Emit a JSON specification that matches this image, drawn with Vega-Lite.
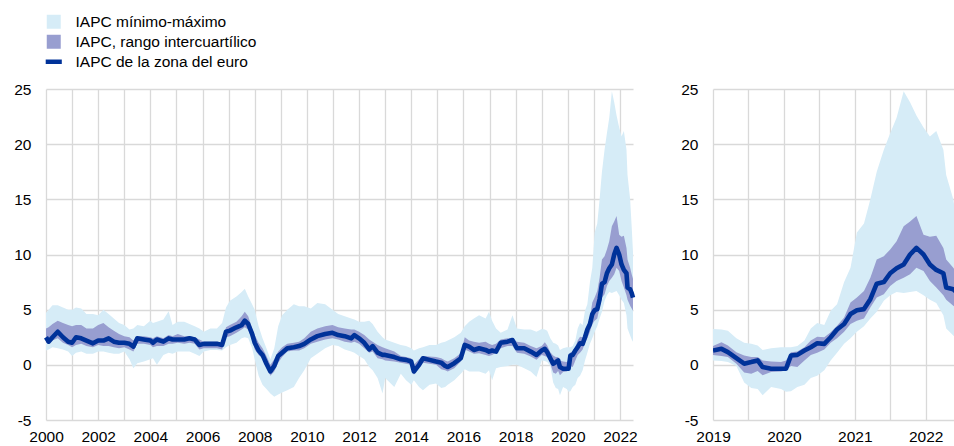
{
  "$schema": "https://vega.github.io/schema/vega-lite/v6.json",
  "padding": {"left": 13, "top": 14, "right": 0, "bottom": 0},
  "bounds": "flush",
  "spacing": 80,
  "datasets": {
    "d": [
      {"year": 2000.00, "mn": 1.3, "q1": 2.0, "v": 2.5, "q3": 3.3, "mx": 4.7},
      {"year": 2000.10, "mn": 1.4, "q1": 1.9, "v": 2.1, "q3": 3.4, "mx": 5.0},
      {"year": 2000.25, "mn": 1.6, "q1": 2.2, "v": 2.5, "q3": 3.7, "mx": 5.4},
      {"year": 2000.45, "mn": 1.5, "q1": 2.4, "v": 3.0, "q3": 4.0, "mx": 5.4},
      {"year": 2000.65, "mn": 1.4, "q1": 2.0, "v": 2.5, "q3": 3.8, "mx": 5.2},
      {"year": 2000.85, "mn": 1.2, "q1": 1.8, "v": 2.1, "q3": 3.6, "mx": 5.0},
      {"year": 2001.00, "mn": 0.8, "q1": 1.6, "v": 2.0, "q3": 3.5, "mx": 5.0},
      {"year": 2001.15, "mn": 1.1, "q1": 1.8, "v": 2.5, "q3": 3.6, "mx": 5.2},
      {"year": 2001.35, "mn": 1.2, "q1": 1.9, "v": 2.4, "q3": 3.6, "mx": 5.1},
      {"year": 2001.55, "mn": 1.0, "q1": 1.7, "v": 2.2, "q3": 3.3, "mx": 4.6},
      {"year": 2001.80, "mn": 1.0, "q1": 1.6, "v": 1.95, "q3": 3.3, "mx": 4.6},
      {"year": 2002.00, "mn": 1.2, "q1": 1.8, "v": 2.2, "q3": 3.6, "mx": 4.5},
      {"year": 2002.20, "mn": 1.2, "q1": 1.7, "v": 2.2, "q3": 3.8, "mx": 5.0},
      {"year": 2002.40, "mn": 1.1, "q1": 1.7, "v": 2.4, "q3": 3.4, "mx": 4.6},
      {"year": 2002.60, "mn": 1.0, "q1": 1.6, "v": 2.1, "q3": 3.1, "mx": 4.2},
      {"year": 2002.80, "mn": 1.0, "q1": 1.5, "v": 2.0, "q3": 2.8, "mx": 3.8},
      {"year": 2003.00, "mn": 1.2, "q1": 1.6, "v": 2.0, "q3": 2.6, "mx": 3.6},
      {"year": 2003.20, "mn": 0.5, "q1": 1.4, "v": 1.9, "q3": 2.5, "mx": 3.2},
      {"year": 2003.35, "mn": -0.3, "q1": 1.2, "v": 1.65, "q3": 2.2, "mx": 3.3},
      {"year": 2003.50, "mn": 0.15, "q1": 1.9, "v": 2.4, "q3": 2.6, "mx": 3.6},
      {"year": 2003.75, "mn": 0.3, "q1": 1.9, "v": 2.3, "q3": 2.6, "mx": 3.5},
      {"year": 2004.00, "mn": 0.5, "q1": 1.8, "v": 2.2, "q3": 2.5, "mx": 4.0},
      {"year": 2004.10, "mn": 0.6, "q1": 1.6, "v": 2.0, "q3": 2.4, "mx": 3.8},
      {"year": 2004.25, "mn": 0.0, "q1": 1.7, "v": 2.3, "q3": 2.6, "mx": 3.9},
      {"year": 2004.50, "mn": 0.9, "q1": 1.7, "v": 2.1, "q3": 2.4, "mx": 4.1},
      {"year": 2004.70, "mn": 1.1, "q1": 1.9, "v": 2.4, "q3": 2.7, "mx": 4.85},
      {"year": 2004.85, "mn": 1.0, "q1": 1.9, "v": 2.3, "q3": 2.6, "mx": 3.6},
      {"year": 2005.05, "mn": 1.2, "q1": 2.0, "v": 2.3, "q3": 2.8, "mx": 3.9},
      {"year": 2005.30, "mn": 1.2, "q1": 1.9, "v": 2.3, "q3": 2.6, "mx": 3.9},
      {"year": 2005.50, "mn": 1.2, "q1": 2.0, "v": 2.4, "q3": 2.6, "mx": 3.7},
      {"year": 2005.70, "mn": 1.0, "q1": 1.9, "v": 2.3, "q3": 2.5, "mx": 3.5},
      {"year": 2005.88, "mn": 0.8, "q1": 1.4, "v": 1.8, "q3": 2.3, "mx": 3.3},
      {"year": 2006.05, "mn": 1.2, "q1": 1.5, "v": 1.9, "q3": 2.1, "mx": 3.0},
      {"year": 2006.30, "mn": 1.35, "q1": 1.5, "v": 1.9, "q3": 2.1, "mx": 3.3},
      {"year": 2006.55, "mn": 1.35, "q1": 1.5, "v": 1.9, "q3": 2.1, "mx": 3.3},
      {"year": 2006.75, "mn": 1.3, "q1": 1.4, "v": 1.8, "q3": 2.0, "mx": 3.8},
      {"year": 2006.90, "mn": 1.6, "q1": 2.5, "v": 3.0, "q3": 3.4, "mx": 5.2},
      {"year": 2007.05, "mn": 1.8, "q1": 2.6, "v": 3.1, "q3": 3.6, "mx": 5.8},
      {"year": 2007.30, "mn": 2.0, "q1": 2.9, "v": 3.4, "q3": 3.9, "mx": 6.2},
      {"year": 2007.50, "mn": 2.4, "q1": 3.2, "v": 3.6, "q3": 4.4, "mx": 6.6},
      {"year": 2007.62, "mn": 2.5, "q1": 3.4, "v": 4.0, "q3": 4.8, "mx": 6.9},
      {"year": 2007.75, "mn": 2.4, "q1": 3.2, "v": 3.7, "q3": 4.4, "mx": 6.2},
      {"year": 2007.90, "mn": 1.5, "q1": 2.3, "v": 2.8, "q3": 3.3, "mx": 5.5},
      {"year": 2008.00, "mn": 0.5, "q1": 1.4, "v": 2.0, "q3": 2.7, "mx": 5.0},
      {"year": 2008.15, "mn": -1.0, "q1": 0.9, "v": 1.3, "q3": 2.0, "mx": 3.5},
      {"year": 2008.30, "mn": -1.8, "q1": 0.6, "v": 0.9, "q3": 1.5, "mx": 2.4},
      {"year": 2008.45, "mn": -2.2, "q1": -0.2, "v": 0.1, "q3": 0.8, "mx": 1.5},
      {"year": 2008.60, "mn": -2.6, "q1": -1.0, "v": -0.6, "q3": 0.0, "mx": 0.5},
      {"year": 2008.75, "mn": -2.9, "q1": -0.6, "v": -0.1, "q3": 0.5, "mx": 1.5},
      {"year": 2008.90, "mn": -2.7, "q1": 0.2, "v": 0.8, "q3": 1.2, "mx": 3.5},
      {"year": 2009.05, "mn": -2.5, "q1": 0.7, "v": 1.1, "q3": 1.6, "mx": 4.5},
      {"year": 2009.25, "mn": -2.3, "q1": 1.2, "v": 1.5, "q3": 1.9, "mx": 5.0},
      {"year": 2009.50, "mn": -2.0, "q1": 1.3, "v": 1.6, "q3": 2.0, "mx": 5.5},
      {"year": 2009.70, "mn": -1.2, "q1": 1.3, "v": 1.7, "q3": 2.1, "mx": 5.3},
      {"year": 2009.90, "mn": -0.5, "q1": 1.5, "v": 1.9, "q3": 2.4, "mx": 5.3},
      {"year": 2010.15, "mn": 0.6, "q1": 1.9, "v": 2.3, "q3": 3.0, "mx": 5.1},
      {"year": 2010.40, "mn": 1.0, "q1": 2.1, "v": 2.6, "q3": 3.3, "mx": 5.6},
      {"year": 2010.70, "mn": 1.5, "q1": 2.3, "v": 2.8, "q3": 3.5, "mx": 5.5},
      {"year": 2010.98, "mn": 1.8, "q1": 2.4, "v": 2.9, "q3": 3.6, "mx": 5.0},
      {"year": 2011.20, "mn": 1.7, "q1": 2.3, "v": 2.7, "q3": 3.4, "mx": 4.6},
      {"year": 2011.45, "mn": 1.4, "q1": 2.1, "v": 2.6, "q3": 3.3, "mx": 4.4},
      {"year": 2011.70, "mn": 1.2, "q1": 2.0, "v": 2.4, "q3": 3.2, "mx": 4.2},
      {"year": 2011.82, "mn": 1.1, "q1": 2.1, "v": 2.7, "q3": 3.2, "mx": 4.1},
      {"year": 2012.00, "mn": 0.8, "q1": 1.9, "v": 2.4, "q3": 3.0, "mx": 3.9},
      {"year": 2012.20, "mn": 0.5, "q1": 1.5, "v": 2.0, "q3": 2.7, "mx": 3.9},
      {"year": 2012.39, "mn": -0.2, "q1": 1.1, "v": 1.4, "q3": 2.3, "mx": 4.0},
      {"year": 2012.52, "mn": -0.5, "q1": 1.2, "v": 1.7, "q3": 2.1, "mx": 3.7},
      {"year": 2012.71, "mn": -1.2, "q1": 0.6, "v": 1.1, "q3": 1.8, "mx": 3.0},
      {"year": 2012.90, "mn": -2.6, "q1": 0.5, "v": 0.9, "q3": 1.6, "mx": 2.5},
      {"year": 2013.00, "mn": -1.2, "q1": 0.4, "v": 0.9, "q3": 1.5, "mx": 2.3},
      {"year": 2013.35, "mn": -2.0, "q1": 0.3, "v": 0.7, "q3": 1.2, "mx": 2.0},
      {"year": 2013.60, "mn": -0.8, "q1": 0.2, "v": 0.5, "q3": 0.8, "mx": 1.8},
      {"year": 2013.80, "mn": -1.4, "q1": 0.1, "v": 0.45, "q3": 0.7, "mx": 1.7},
      {"year": 2014.00, "mn": -1.8, "q1": 0.0, "v": 0.3, "q3": 0.6, "mx": 1.5},
      {"year": 2014.10, "mn": -1.4, "q1": -0.9, "v": -0.6, "q3": 0.0, "mx": 1.3},
      {"year": 2014.30, "mn": -2.0, "q1": -0.2, "v": 0.0, "q3": 0.5, "mx": 1.5},
      {"year": 2014.45, "mn": -2.3, "q1": 0.2, "v": 0.6, "q3": 0.8, "mx": 1.6},
      {"year": 2014.70, "mn": -1.8, "q1": 0.1, "v": 0.45, "q3": 0.75, "mx": 1.8},
      {"year": 2014.95, "mn": -1.7, "q1": 0.0, "v": 0.3, "q3": 0.7, "mx": 1.8},
      {"year": 2015.15, "mn": -2.1, "q1": -0.4, "v": 0.2, "q3": 0.6, "mx": 2.0},
      {"year": 2015.30, "mn": -2.0, "q1": -0.5, "v": -0.1, "q3": 0.4, "mx": 2.1},
      {"year": 2015.40, "mn": -1.8, "q1": -0.6, "v": -0.2, "q3": 0.3, "mx": 2.2},
      {"year": 2015.65, "mn": -1.4, "q1": -0.3, "v": 0.15, "q3": 0.6, "mx": 2.5},
      {"year": 2015.90, "mn": -0.8, "q1": 0.3, "v": 0.6, "q3": 1.05, "mx": 2.9},
      {"year": 2016.05, "mn": -0.4, "q1": 1.4, "v": 1.8, "q3": 2.5, "mx": 3.5},
      {"year": 2016.22, "mn": -0.6, "q1": 1.2, "v": 1.65, "q3": 2.2, "mx": 3.9},
      {"year": 2016.40, "mn": -0.6, "q1": 1.0, "v": 1.35, "q3": 2.1, "mx": 4.2},
      {"year": 2016.60, "mn": -0.6, "q1": 1.05, "v": 1.5, "q3": 2.0, "mx": 4.5},
      {"year": 2016.85, "mn": -0.8, "q1": 0.9, "v": 1.35, "q3": 2.1, "mx": 4.2},
      {"year": 2016.98, "mn": -0.5, "q1": 0.8, "v": 1.2, "q3": 1.9, "mx": 4.8},
      {"year": 2017.10, "mn": -1.4, "q1": 0.9, "v": 1.3, "q3": 1.8, "mx": 4.0},
      {"year": 2017.25, "mn": -0.3, "q1": 1.1, "v": 1.2, "q3": 1.9, "mx": 3.3},
      {"year": 2017.43, "mn": -0.2, "q1": 1.5, "v": 2.0, "q3": 2.3, "mx": 2.9},
      {"year": 2017.69, "mn": -0.1, "q1": 1.7, "v": 2.1, "q3": 2.4, "mx": 3.2},
      {"year": 2017.88, "mn": 0.0, "q1": 1.7, "v": 2.25, "q3": 2.4, "mx": 4.5},
      {"year": 2018.05, "mn": 0.0, "q1": 1.1, "v": 1.5, "q3": 2.1, "mx": 3.3},
      {"year": 2018.33, "mn": -0.3, "q1": 1.0, "v": 1.5, "q3": 2.0, "mx": 3.2},
      {"year": 2018.58, "mn": -0.6, "q1": 0.75, "v": 1.2, "q3": 1.7, "mx": 3.2},
      {"year": 2018.80, "mn": -1.1, "q1": 0.45, "v": 0.9, "q3": 1.5, "mx": 3.0},
      {"year": 2019.00, "mn": 0.4, "q1": 0.9, "v": 1.3, "q3": 1.7, "mx": 3.25},
      {"year": 2019.12, "mn": 0.35, "q1": 0.8, "v": 1.45, "q3": 2.05, "mx": 3.2},
      {"year": 2019.21, "mn": 0.25, "q1": 0.7, "v": 1.15, "q3": 1.75, "mx": 3.1},
      {"year": 2019.33, "mn": -0.1, "q1": 0.1, "v": 0.6, "q3": 1.15, "mx": 2.4},
      {"year": 2019.44, "mn": -1.6, "q1": -0.7, "v": 0.1, "q3": 0.85, "mx": 2.0},
      {"year": 2019.54, "mn": -2.1, "q1": -0.8, "v": 0.25, "q3": 0.7, "mx": 1.9},
      {"year": 2019.63, "mn": -2.2, "q1": -0.55, "v": 0.4, "q3": 0.7, "mx": 1.75},
      {"year": 2019.70, "mn": -2.75, "q1": -0.95, "v": -0.2, "q3": 0.4, "mx": 1.35},
      {"year": 2019.82, "mn": -2.0, "q1": -0.65, "v": -0.35, "q3": 0.3, "mx": 1.5},
      {"year": 2019.96, "mn": -2.2, "q1": -0.6, "v": -0.35, "q3": 0.25, "mx": 1.6},
      {"year": 2020.03, "mn": -2.45, "q1": -0.5, "v": -0.35, "q3": 0.4, "mx": 1.6},
      {"year": 2020.10, "mn": -2.4, "q1": -0.1, "v": 0.85, "q3": 1.15, "mx": 1.6},
      {"year": 2020.19, "mn": -2.0, "q1": -0.2, "v": 0.9, "q3": 1.2, "mx": 1.7},
      {"year": 2020.29, "mn": -1.8, "q1": 0.4, "v": 1.3, "q3": 1.6, "mx": 2.2},
      {"year": 2020.38, "mn": -1.2, "q1": 0.9, "v": 1.6, "q3": 2.2, "mx": 3.3},
      {"year": 2020.47, "mn": -1.0, "q1": 1.1, "v": 1.95, "q3": 2.55, "mx": 3.8},
      {"year": 2020.57, "mn": -0.5, "q1": 1.4, "v": 1.9, "q3": 2.5, "mx": 3.6},
      {"year": 2020.66, "mn": 0.4, "q1": 2.0, "v": 2.5, "q3": 2.95, "mx": 4.9},
      {"year": 2020.75, "mn": 1.1, "q1": 2.4, "v": 3.2, "q3": 3.55, "mx": 5.5},
      {"year": 2020.85, "mn": 1.9, "q1": 3.0, "v": 3.7, "q3": 4.3, "mx": 7.5},
      {"year": 2020.94, "mn": 2.4, "q1": 3.7, "v": 4.6, "q3": 5.65, "mx": 8.8},
      {"year": 2021.03, "mn": 3.0, "q1": 4.0, "v": 4.95, "q3": 6.1, "mx": 12.0},
      {"year": 2021.13, "mn": 3.5, "q1": 4.2, "v": 5.05, "q3": 6.7, "mx": 12.8},
      {"year": 2021.22, "mn": 4.2, "q1": 5.2, "v": 5.95, "q3": 7.9, "mx": 15.0},
      {"year": 2021.31, "mn": 4.8, "q1": 6.1, "v": 7.35, "q3": 9.55, "mx": 17.5},
      {"year": 2021.41, "mn": 5.8, "q1": 6.4, "v": 7.5, "q3": 9.85, "mx": 19.5},
      {"year": 2021.50, "mn": 6.3, "q1": 7.15, "v": 8.3, "q3": 10.45, "mx": 21.0},
      {"year": 2021.59, "mn": 6.6, "q1": 7.6, "v": 8.75, "q3": 11.2, "mx": 22.4},
      {"year": 2021.69, "mn": 6.5, "q1": 7.9, "v": 9.1, "q3": 12.55, "mx": 24.8},
      {"year": 2021.78, "mn": 6.6, "q1": 8.2, "v": 10.0, "q3": 13.0, "mx": 23.8},
      {"year": 2021.87, "mn": 6.7, "q1": 8.8, "v": 10.6, "q3": 13.5, "mx": 22.6},
      {"year": 2021.97, "mn": 6.3, "q1": 8.5, "v": 10.0, "q3": 11.8, "mx": 21.5},
      {"year": 2022.06, "mn": 5.9, "q1": 7.6, "v": 9.1, "q3": 11.6, "mx": 20.7},
      {"year": 2022.15, "mn": 5.6, "q1": 7.0, "v": 8.6, "q3": 11.7, "mx": 21.2},
      {"year": 2022.25, "mn": 4.5, "q1": 6.3, "v": 8.3, "q3": 10.6, "mx": 19.5},
      {"year": 2022.29, "mn": 3.3, "q1": 5.9, "v": 7.0, "q3": 9.55, "mx": 17.2},
      {"year": 2022.39, "mn": 2.65, "q1": 5.35, "v": 6.85, "q3": 8.8, "mx": 15.0},
      {"year": 2022.45, "mn": 2.3, "q1": 5.1, "v": 6.5, "q3": 8.2, "mx": 12.5},
      {"year": 2022.50, "mn": 2.1, "q1": 4.9, "v": 6.1, "q3": 7.8, "mx": 10.2}
    ]
  },
  "hconcat": [
    {
      "width": 587,
      "height": 331,
      "data": {"name": "d"},
      "encoding": {
        "x": {"field": "year", "type": "quantitative",
              "scale": {"domain": [2000, 2022.5], "nice": false, "zero": false},
              "axis": {"values": [2000,2001,2002,2003,2004,2005,2006,2007,2008,2009,2010,2011,2012,2013,2014,2015,2016,2017,2018,2019,2020,2021,2022],
                       "labelExpr": "datum.value % 2 == 0 ? '' + datum.value : ''"}}
      },
      "layer": [
        {"mark": {"type": "area", "opacity": 1},
         "encoding": {
           "y": {"field": "mn", "type": "quantitative",
                 "scale": {"domain": [-5, 25], "nice": false, "zero": false},
                 "axis": {"values": [-5, 0, 5, 10, 15, 20, 25],
                          "labelExpr": "datum.value < 0 ? '-' + abs(datum.value) : '' + datum.value"}},
           "y2": {"field": "mx"},
           "color": {"datum": "IAPC mínimo-máximo", "type": "nominal",
                     "scale": {"domain": ["IAPC mínimo-máximo", "IAPC, rango intercuartílico", "IAPC de la zona del euro"],
                               "range": ["#d6ecf7", "#989ed0", "#003299"]},
                     "legend": {
                       "orient": "none",
                       "legendX": 0,
                       "legendY": -75,
                       "title": null,
                       "labelLimit": 0,
                       "symbolType": {"expr": "datum.value === 'IAPC de la zona del euro' ? 'M-1.15,-0.32H1.15V0.32H-1.15Z' : 'square'"}
                     }}
         }},
        {"mark": {"type": "area", "opacity": 1},
         "encoding": {
           "y": {"field": "q1", "type": "quantitative"},
           "y2": {"field": "q3"},
           "color": {"datum": "IAPC, rango intercuartílico", "type": "nominal"}
         }},
        {"mark": {"type": "line", "strokeWidth": 4.6, "strokeJoin": "round"},
         "encoding": {
           "y": {"field": "v", "type": "quantitative"},
           "color": {"datum": "IAPC de la zona del euro", "type": "nominal"}
         }}
      ]
    },
    {
      "width": 241,
      "height": 331,
      "data": {"name": "d"},
      "transform": [{"filter": "datum.year >= 2019"}],
      "encoding": {
        "x": {"field": "year", "type": "quantitative",
              "scale": {"domain": [2019, 2022.4], "nice": false, "zero": false},
              "axis": {"values": [2019, 2019.5, 2020, 2020.5, 2021, 2021.5, 2022],
                       "labelExpr": "datum.value % 1 == 0 ? '' + datum.value : ''"}}
      },
      "layer": [
        {"mark": {"type": "area", "opacity": 1, "clip": true},
         "encoding": {
           "y": {"field": "mn", "type": "quantitative",
                 "scale": {"domain": [-5, 25], "nice": false, "zero": false},
                 "axis": {"values": [-5, 0, 5, 10, 15, 20, 25],
                          "labelExpr": "datum.value < 0 ? '-' + abs(datum.value) : '' + datum.value"}},
           "y2": {"field": "mx"},
           "color": {"datum": "IAPC mínimo-máximo", "type": "nominal"}
         }},
        {"mark": {"type": "area", "opacity": 1, "clip": true},
         "encoding": {
           "y": {"field": "q1", "type": "quantitative"},
           "y2": {"field": "q3"},
           "color": {"datum": "IAPC, rango intercuartílico", "type": "nominal"}
         }},
        {"mark": {"type": "line", "strokeWidth": 4.6, "strokeJoin": "round", "clip": true},
         "encoding": {
           "y": {"field": "v", "type": "quantitative"},
           "color": {"datum": "IAPC de la zona del euro", "type": "nominal"}
         }}
      ]
    }
  ],
  "resolve": {"scale": {"color": "shared"}, "legend": {"color": "shared"}},
  "config": {
    "view": {"stroke": null},
    "font": "Liberation Sans",
    "axis": {
      "title": null,
      "grid": true,
      "gridColor": "#d9d9d9",
      "gridWidth": 1.3,
      "domain": false,
      "ticks": false,
      "tickSize": 0,
      "labelFont": "Liberation Sans",
      "labelFontSize": 15.5,
      "labelColor": "#000000",
      "labelOverlap": false,
      "labelBound": false,
      "labelFlush": false
    },
    "axisY": {"labelPadding": 15},
    "axisX": {"labelPadding": 9},
    "legend": {
      "labelFont": "Liberation Sans",
      "labelFontSize": 15.5,
      "labelColor": "#000000",
      "labelLimit": 0,
      "symbolSize": 196,
      "symbolStrokeWidth": 0,
      "labelOffset": 14,
      "rowPadding": 3
    }
  }
}
